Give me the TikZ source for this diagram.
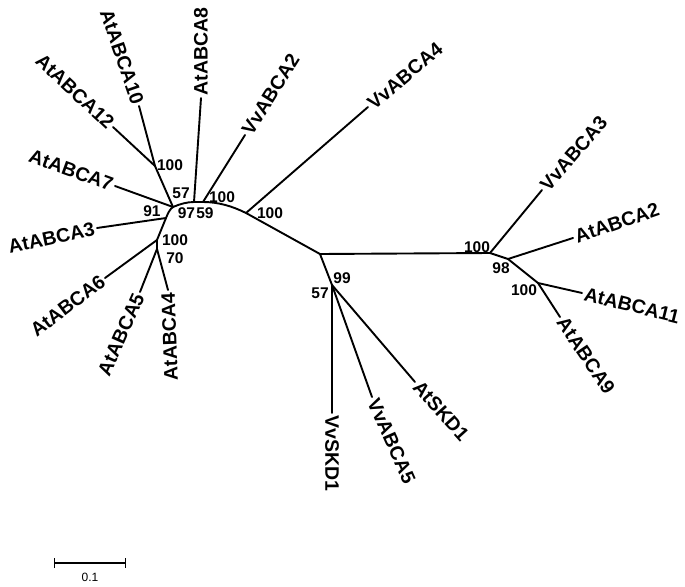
\documentclass[tikz,border=0pt]{standalone}
\usepackage{fontspec}
\setmainfont{Liberation Sans}
\newfontfamily\boldlbl{Liberation Sans Bold}
\usetikzlibrary{arrows.meta}
\tikzset{
  br/.style={line width=1.9pt, line cap=round, line join=round},
  lbl/.style={font=\boldlbl\fontsize{19.5}{21}\selectfont, inner sep=2.5pt},
  lblL/.style={lbl, anchor=east},
  lblR/.style={lbl, anchor=west},
  bs/.style={font=\boldlbl\fontsize{15.5}{16}\selectfont, inner sep=0pt},
}
\begin{document}
\begin{tikzpicture}[x=1pt,y=-1pt]
\useasboundingbox (0,0) rectangle (685,586);
% tips
\coordinate (tA12) at (113,127);
\coordinate (tA10) at (139,106);
\coordinate (tA8) at (201,98);
\coordinate (tV2) at (245,135);
\coordinate (tV4) at (368,107);
\coordinate (tA7) at (115,186);
\coordinate (tA3) at (97,228);
\coordinate (tA6) at (105,278);
\coordinate (tA5) at (140,292);
\coordinate (tA4) at (168,290);
\coordinate (tVS) at (332,413);
\coordinate (tV5) at (372,397);
\coordinate (tAS) at (415,382);
\coordinate (tV3) at (542,190);
\coordinate (tA2) at (573,238);
\coordinate (tA11) at (582,293);
\coordinate (tA9) at (560,317);
% internal nodes
\coordinate (n1210) at (155,166);
\coordinate (n7) at (173,207);
\coordinate (n3) at (166,218);
\coordinate (n6) at (157,240);
\coordinate (n45) at (157,249);
\coordinate (n8) at (194,202);
\coordinate (nv2) at (203,202);
\coordinate (n4) at (246,213);
\coordinate (nc) at (320,254);
\coordinate (ns) at (332,285);
\coordinate (nr) at (490,253);
\coordinate (n98) at (508,259);
\coordinate (n911) at (538,283);

% backbone
\draw[br] (n45) -- (n6) -- (n3) .. controls (168,213) and (170,209) .. (n7)
  .. controls (180,204) and (187,202) .. (n8) -- (nv2)
  .. controls (218,202) and (232,206) .. (n4) -- (nc);
% branches
\draw[br] (n7) -- (n1210) -- (tA12);
\draw[br] (n1210) -- (tA10);
\draw[br] (n7) -- (tA7);
\draw[br] (n3) -- (tA3);
\draw[br] (n6) -- (tA6);
\draw[br] (n45) -- (tA5);
\draw[br] (n45) -- (tA4);
\draw[br] (n8) -- (tA8);
\draw[br] (nv2) -- (tV2);
\draw[br] (n4) -- (tV4);
\draw[br] (nc) -- (nr);
\draw[br] (nc) -- (ns);
\draw[br] (ns) -- (tVS);
\draw[br] (ns) -- (tV5);
\draw[br] (ns) -- (tAS);
\draw[br] (nr) -- (tV3);
\draw[br] (nr) -- (n98) -- (n911);
\draw[br] (n98) -- (tA2);
\draw[br] (n911) -- (tA11);
\draw[br] (n911) -- (tA9);

% leaf labels
\node[lblL, rotate=-43] (LA12) at (tA12) {AtABCA12};
\node[lblL, rotate=-71] (LA10) at (tA10) {AtABCA10};
\node[lblL, rotate=-20] (LA7) at (tA7) {AtABCA7};
\node[lblL, rotate=12] (LA3) at (tA3) {AtABCA3};
\node[lblL, rotate=37] (LA6) at (tA6) {AtABCA6};
\node[lblL, rotate=66] (LA5) at (tA5) {AtABCA5};
\node[lblL, rotate=92] (LA4) at (tA4) {AtABCA4};
\node[lblR, rotate=90] (LA8) at (tA8) {AtABCA8};
\node[lblR, rotate=58] (LV2) at (tV2) {VvABCA2};
\node[lblR, rotate=40] (LV4) at (tV4) {VvABCA4};
\node[lblR, rotate=49] (LV3) at (tV3) {VvABCA3};
\node[lblR, rotate=19] (LA2) at (tA2) {AtABCA2};
\node[lblR, rotate=-14] (LA11) at (tA11) {AtABCA11};
\node[lblR, rotate=-56] (LA9) at (tA9) {AtABCA9};
\node[lblR, rotate=-48] (LAS) at (tAS) {AtSKD1};
\node[lblR, rotate=-66] (LV5) at (tV5) {VvABCA5};
\node[lblR, rotate=-90] (LVS) at (tVS) {VvSKD1};

% bootstrap values
\node[bs] (b1) at (170,165) {100};
\node[bs] (b2) at (181,193) {57};
\node[bs] (b3) at (152,211) {91};
\node[bs] (b4) at (186.5,213) {97};
\node[bs] (b5) at (205,213) {59};
\node[bs] (b6) at (222,197) {100};
\node[bs] (b7) at (175,240) {100};
\node[bs] (b8) at (175,258) {70};
\node[bs] (b9) at (270,213) {100};
\node[bs] (b10) at (342,278) {99};
\node[bs] (b11) at (320,293) {57};
\node[bs] (b12) at (477,247) {100};
\node[bs] (b13) at (501,268) {98};
\node[bs] (b14) at (524,290) {100};

% scale bar
\coordinate (sbL) at (54,563);
\coordinate (sbR) at (126,563);
\draw[line width=1.2pt, {Bar[width=10pt,line width=1.2pt]}-{Bar[width=10pt,line width=1.2pt]}] (sbL) -- (sbR);
\node[font=\fontsize{12}{13}\selectfont, inner sep=0pt] (sbT) at (90,577) {0.1};
\end{tikzpicture}
\end{document}
